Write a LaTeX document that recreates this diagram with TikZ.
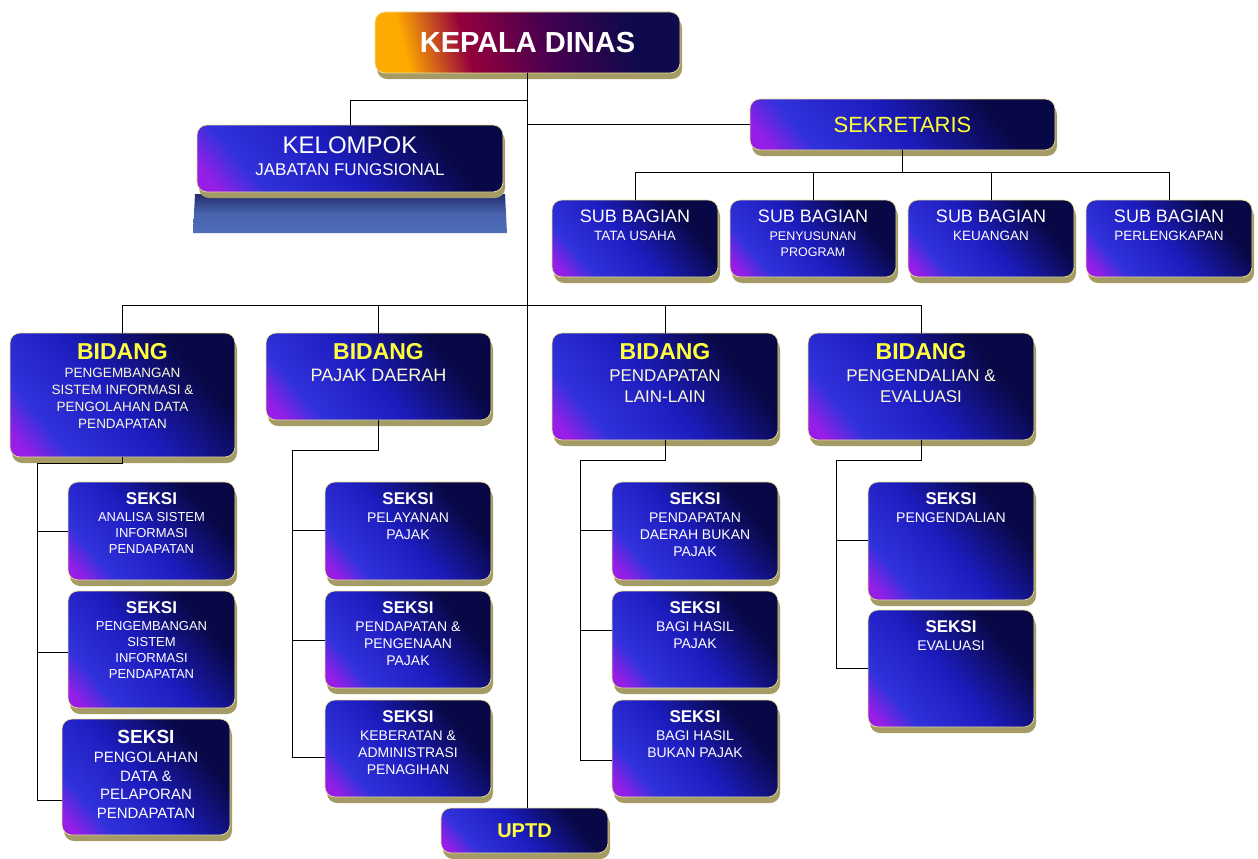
\documentclass[tikz,border=0pt]{standalone}
\usepackage{fontspec}
\setmainfont{Liberation Sans}
\usetikzlibrary{shadows}
\definecolor{bpurple}{RGB}{150,30,230}
\definecolor{bblue}{RGB}{50,50,220}
\definecolor{bblue2}{RGB}{28,28,190}
\definecolor{bnavy}{RGB}{8,8,70}
\definecolor{kdor}{RGB}{255,170,0}
\definecolor{kdred}{RGB}{150,0,60}
\definecolor{kdpur}{RGB}{70,0,80}
\definecolor{kdnavy}{RGB}{15,10,75}
\definecolor{shadc}{RGB}{165,155,100}
\definecolor{hlc}{RGB}{235,225,150}
\definecolor{ylw}{RGB}{255,255,60}
\definecolor{paley}{RGB}{250,250,215}
\definecolor{basetop}{RGB}{35,45,110}
\definecolor{basebot}{RGB}{80,110,185}
\pgfdeclareverticalshading{boxshade}{100bp}{color(0bp)=(bpurple); color(19bp)=(bpurple); color(28bp)=(bblue); color(48bp)=(bblue2); color(70bp)=(bnavy); color(100bp)=(bnavy)}
\pgfdeclarehorizontalshading{kdshade}{100bp}{color(0bp)=(kdor); color(26bp)=(kdor); color(38bp)=(kdred); color(54bp)=(kdpur); color(70bp)=(kdnavy); color(100bp)=(kdnavy)}
\begin{document}
\begin{tikzpicture}[x=1pt,y=-1pt,
  orgbox/.style={rounded corners=10pt, shading=boxshade, shading angle=-50, draw=hlc, line width=0.7pt, inner sep=0pt,
    drop shadow={shadow xshift=2pt, shadow yshift=-6pt, fill=shadc, opacity=1}},
  kdbox/.style={orgbox, shading=kdshade, shading angle=15},
  txt/.style={inner sep=0pt, align=center, text=white, anchor=north},
  conn/.style={draw=black, line width=0.9pt},
  sz/.style args={#1/#2}{minimum width=#1pt, minimum height=#2pt}]
\useasboundingbox (0,0) rectangle (1258,859);
\fill[white] (0,0) rectangle (1258,859);

% platform under KELOMPOK
\shade[top color=basetop, bottom color=basebot, middle color=basebot!85!basetop] (195,194) -- (505,194) -- (507,233) -- (193,233) -- cycle;

% boxes
\node[kdbox, sz=305/61] (kd) at (527.5,42.5) {};
\node[orgbox, sz=306/67] (kel) at (350,158.5) {};
\node[orgbox, sz=305/51] (sek) at (902.5,124.5) {};
\node[orgbox, sz=166/77] (sb1) at (635,238.5) {};
\node[orgbox, sz=166/77] (sb2) at (813,238.5) {};
\node[orgbox, sz=166/77] (sb3) at (991,238.5) {};
\node[orgbox, sz=166/77] (sb4) at (1169,238.5) {};
\node[orgbox, sz=225/124] (b1) at (122.5,395) {};
\node[orgbox, sz=225/87] (b2) at (378.5,376.5) {};
\node[orgbox, sz=226/107] (b3) at (665,386.5) {};
\node[orgbox, sz=226/107] (b4) at (921,386.5) {};
\node[orgbox, sz=167/98] (s11) at (151.5,531) {};
\node[orgbox, sz=167/117] (s12) at (151.5,649.5) {};
\node[orgbox, sz=168/116] (s13) at (146,777) {};
\node[orgbox, sz=166/98] (s21) at (408,531) {};
\node[orgbox, sz=166/97] (s22) at (408,639.5) {};
\node[orgbox, sz=166/97] (s23) at (408,748.5) {};
\node[orgbox, sz=167/45] (uptd) at (524.5,830.5) {};
\node[orgbox, sz=166/98] (s31) at (695,531) {};
\node[orgbox, sz=166/97] (s32) at (695,639.5) {};
\node[orgbox, sz=166/97] (s33) at (695,748.5) {};
\node[orgbox, sz=166/118] (s41) at (951,541) {};
\node[orgbox, sz=166/117] (s42) at (951,668.5) {};

% connectors
\coordinate (kj) at (527,100);
\coordinate (sbbus) at (0,172);
\coordinate (bbus) at (0,305);
\draw[conn] (kd.south) -- (kd.south |- uptd.north);
\draw[conn] (kd.south |- kj) -| (kel.north);
\draw[conn] (kd.south |- sek.west) -- (sek.west);
\draw[conn] (sek.south) -- (sek.south |- sbbus);
\draw[conn] (sb1.north |- sbbus) -- (sb4.north |- sbbus);
\foreach \n in {sb1,sb2,sb3,sb4} \draw[conn] (\n.north) -- (\n.north |- sbbus);
\draw[conn] (b1.north |- bbus) -- (b4.north |- bbus);
\foreach \n in {b1,b2,b3,b4} \draw[conn] (\n.north) -- (\n.north |- bbus);
% column 1
\coordinate (c1) at (37,463);
\draw[conn] (b1.south) |- (c1) -- (37,800);
\draw[conn] (c1 |- s11.west) -- (s11.west);
\draw[conn] (37,652) -- (s12.west |- 0,652);
\draw[conn] (37,800) -- (s13.west |- 0,800);
% column 2
\coordinate (c2) at (292,450);
\draw[conn] (b2.south) |- (c2) -- (292,757);
\draw[conn] (292,530) -- (s21.west |- 0,530);
\draw[conn] (292,640) -- (s22.west |- 0,640);
\draw[conn] (292,757) -- (s23.west |- 0,757);
% column 3
\coordinate (c3) at (580,460);
\draw[conn] (b3.south) |- (c3) -- (580,760);
\draw[conn] (580,530) -- (s31.west |- 0,530);
\draw[conn] (580,630) -- (s32.west |- 0,630);
\draw[conn] (580,760) -- (s33.west |- 0,760);
% column 4
\coordinate (c4) at (836,460);
\draw[conn] (b4.south) |- (c4) -- (836,668);
\draw[conn] (836,540) -- (s41.west |- 0,540);
\draw[conn] (836,668) -- (s42.west |- 0,668);

% texts
\node[txt, anchor=center, font=\fontsize{29}{32}\selectfont\bfseries] (kdt) at (kd.center) {KEPALA DINAS};
\node[txt, font=\fontsize{17}{20}\selectfont] (kelt) at ([yshift=-12pt]kel.north) {{\fontsize{24}{26}\selectfont KELOMPOK}\\[2pt]JABATAN FUNGSIONAL};
\node[txt, anchor=center, text=ylw, font=\fontsize{22}{26}\selectfont] (sekt) at (sek.center) {SEKRETARIS};
\node[txt, font=\fontsize{13.5}{16}\selectfont] (sb1t) at ([yshift=-10pt]sb1.north) {{\fontsize{18}{21}\selectfont SUB BAGIAN}\\[2pt]TATA USAHA};
\node[txt, font=\fontsize{12.5}{16}\selectfont] (sb2t) at ([yshift=-10pt]sb2.north) {{\fontsize{18}{21}\selectfont SUB BAGIAN}\\[2pt]PENYUSUNAN\\PROGRAM};
\node[txt, font=\fontsize{13.5}{16}\selectfont] (sb3t) at ([yshift=-10pt]sb3.north) {{\fontsize{18}{21}\selectfont SUB BAGIAN}\\[2pt]KEUANGAN};
\node[txt, font=\fontsize{13.5}{16}\selectfont] (sb4t) at ([yshift=-10pt]sb4.north) {{\fontsize{18}{21}\selectfont SUB BAGIAN}\\[2pt]PERLENGKAPAN};
\node[txt, text=paley, font=\fontsize{13.5}{17}\selectfont] (b1t) at ([yshift=-11pt]b1.north) {{\color{ylw}\fontsize{23}{25}\selectfont\bfseries BIDANG}\\[1pt]PENGEMBANGAN\\SISTEM INFORMASI \&\\PENGOLAHAN DATA\\PENDAPATAN};
\node[txt, text=paley, font=\fontsize{18}{21}\selectfont] (b2t) at ([yshift=-11pt]b2.north) {{\color{ylw}\fontsize{23}{25}\selectfont\bfseries BIDANG}\\[1pt]PAJAK DAERAH};
\node[txt, text=paley, font=\fontsize{17}{21}\selectfont] (b3t) at ([yshift=-11pt]b3.north) {{\color{ylw}\fontsize{23}{25}\selectfont\bfseries BIDANG}\\[1pt]PENDAPATAN\\LAIN-LAIN};
\node[txt, text=paley, font=\fontsize{17}{21}\selectfont] (b4t) at ([yshift=-11pt]b4.north) {{\color{ylw}\fontsize{23}{25}\selectfont\bfseries BIDANG}\\[1pt]PENGENDALIAN \&\\EVALUASI};
\node[txt, font=\fontsize{13}{16}\selectfont] (s11t) at ([yshift=-11pt]s11.north) {{\fontsize{17}{19}\selectfont\bfseries SEKSI}\\[1pt]ANALISA SISTEM\\INFORMASI\\PENDAPATAN};
\node[txt, font=\fontsize{13}{16}\selectfont] (s12t) at ([yshift=-11pt]s12.north) {{\fontsize{17}{19}\selectfont\bfseries SEKSI}\\[1pt]PENGEMBANGAN\\SISTEM\\INFORMASI\\PENDAPATAN};
\node[txt, font=\fontsize{15}{18.5}\selectfont] (s13t) at ([yshift=-11pt]s13.north) {{\fontsize{19}{21}\selectfont\bfseries SEKSI}\\[1pt]PENGOLAHAN\\DATA \&\\PELAPORAN\\PENDAPATAN};
\node[txt, font=\fontsize{14}{17}\selectfont] (s21t) at ([yshift=-11pt]s21.north) {{\fontsize{17}{19}\selectfont\bfseries SEKSI}\\[1pt]PELAYANAN\\PAJAK};
\node[txt, font=\fontsize{14}{17}\selectfont] (s22t) at ([yshift=-11pt]s22.north) {{\fontsize{17}{19}\selectfont\bfseries SEKSI}\\[1pt]PENDAPATAN \&\\PENGENAAN\\PAJAK};
\node[txt, font=\fontsize{14}{17}\selectfont] (s23t) at ([yshift=-11pt]s23.north) {{\fontsize{17}{19}\selectfont\bfseries SEKSI}\\[1pt]KEBERATAN \&\\ADMINISTRASI\\PENAGIHAN};
\node[txt, anchor=center, text=ylw, font=\fontsize{20}{24}\selectfont\bfseries] (uptdt) at (uptd.center) {UPTD};
\node[txt, font=\fontsize{14}{17}\selectfont] (s31t) at ([yshift=-11pt]s31.north) {{\fontsize{17}{19}\selectfont\bfseries SEKSI}\\[1pt]PENDAPATAN\\DAERAH BUKAN\\PAJAK};
\node[txt, font=\fontsize{14}{17}\selectfont] (s32t) at ([yshift=-11pt]s32.north) {{\fontsize{17}{19}\selectfont\bfseries SEKSI}\\[1pt]BAGI HASIL\\PAJAK};
\node[txt, font=\fontsize{14}{17}\selectfont] (s33t) at ([yshift=-11pt]s33.north) {{\fontsize{17}{19}\selectfont\bfseries SEKSI}\\[1pt]BAGI HASIL\\BUKAN PAJAK};
\node[txt, font=\fontsize{14}{17}\selectfont] (s41t) at ([yshift=-11pt]s41.north) {{\fontsize{17}{19}\selectfont\bfseries SEKSI}\\[1pt]PENGENDALIAN};
\node[txt, font=\fontsize{14}{17}\selectfont] (s42t) at ([yshift=-11pt]s42.north) {{\fontsize{17}{19}\selectfont\bfseries SEKSI}\\[1pt]EVALUASI};
\end{tikzpicture}
\end{document}
